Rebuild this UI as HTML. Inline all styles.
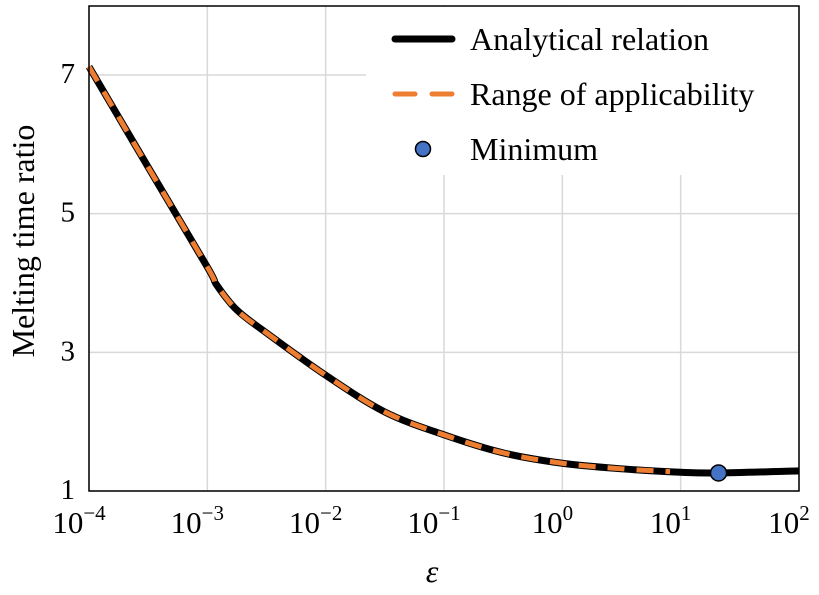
<!DOCTYPE html>
<html><head><meta charset="utf-8"><style>
body{margin:0;background:#fff}
svg{font-family:"Liberation Serif",serif}
</style></head><body>
<svg id="c" width="819" height="590" xmlns="http://www.w3.org/2000/svg"></svg>
<script>
const logEps=[-4,-3.5,-3,-2.92,-2.75,-2.5,-2,-1.5,-1,-0.5,0,0.5,1,1.32,2];
const ratio=[7.12,5.67,4.23,3.97,3.61,3.28,2.67,2.14,1.81,1.55,1.40,1.32,1.27,1.26,1.29];
const rangeEnd=0.91;
const minLog=1.32, minVal=1.26;
const xTicks=[-4,-3,-2,-1,0,1,2];
const yTicks=[1,3,5,7];
const L=89,R=799,T=6,B=491;
const x=v=>L+(v+4)/6*(R-L);
const y=v=>B-(v-1)/6*(B-75);
const ns="http://www.w3.org/2000/svg";
const svg=document.getElementById('c');
function mk(tag,a,p){const e=document.createElementNS(ns,tag);for(const k in a)e.setAttribute(k,a[k]);(p||svg).appendChild(e);return e;}
xTicks.forEach(t=>{const g=mk('line',{x1:x(t),x2:x(t),y1:T,y2:B,stroke:'#d9d9d9','stroke-width':1.5});

const tx=mk('text',{x:x(t)-10,y:533,'font-size':31,'text-anchor':'middle'});

tx.innerHTML='10<tspan dy="-13" font-size="21">'+(t<0?'−'+(-t):t)+'</tspan>';});
yTicks.forEach(t=>{const g=mk('line',{x1:L,x2:R,y1:y(t),y2:y(t),stroke:'#d9d9d9','stroke-width':1.5});

const tx=mk('text',{x:75,y:y(t)+8,'font-size':29,'text-anchor':'end'});tx.textContent=t;
});
function smooth(P){let d='M'+P[0][0]+','+P[0][1];for(let i=0;i<P.length-1;i++){const p0=P[Math.max(0,i-1)],p1=P[i],p2=P[i+1],p3=P[Math.min(P.length-1,i+2)];
const c1=[p1[0]+(p2[0]-p0[0])/6,p1[1]+(p2[1]-p0[1])/6],c2=[p2[0]-(p3[0]-p1[0])/6,p2[1]-(p3[1]-p1[1])/6];
d+=' C'+c1[0]+','+c1[1]+' '+c2[0]+','+c2[1]+' '+p2[0]+','+p2[1];}return d;}
function interp(lv){for(let i=0;i<logEps.length-1;i++){if(lv<=logEps[i+1]){const f=(lv-logEps[i])/(logEps[i+1]-logEps[i]);return ratio[i]+f*(ratio[i+1]-ratio[i]);}}return ratio[ratio.length-1];}
const all=logEps.map((l,i)=>[x(l),y(ratio[i])]);
const line=mk('path',{d:smooth(all),fill:'none',stroke:'#000','stroke-width':7,'stroke-linejoin':'round'});

const rp=[];logEps.forEach((l,i)=>{if(l<rangeEnd)rp.push([x(l),y(ratio[i])]);});rp.push([x(rangeEnd),y(interp(rangeEnd))]);
const rl=mk('path',{d:smooth(rp),fill:'none',stroke:'#ed7d31','stroke-width':5,'stroke-dasharray':'17 12','stroke-linejoin':'round'});

const frame=mk('rect',{x:L,y:T,width:R-L,height:B-T,fill:'none',stroke:'#000','stroke-width':1.5});

const lg=mk('g',{});
mk('rect',{x:366,y:7,width:432,height:168,fill:'#fff'},lg);
mk('line',{x1:395,x2:452,y1:39,y2:39,stroke:'#000','stroke-width':7,'stroke-linecap':'round'},lg);
mk('line',{x1:395,x2:452,y1:94,y2:94,stroke:'#ed7d31','stroke-width':5,'stroke-dasharray':'20 17','stroke-linecap':'round'},lg);
mk('circle',{cx:423,cy:149,r:7.5,fill:'#4472c4',stroke:'#000','stroke-width':1.5},lg);
[['Analytical relation',50],['Range of applicability',105],['Minimum',160]].forEach(([s,yy])=>{const t=mk('text',{x:470,y:yy,'font-size':32},lg);t.textContent=s;
});
const m=mk('circle',{cx:x(minLog),cy:y(minVal),r:8,fill:'#4472c4',stroke:'#000','stroke-width':1.5});

const yl=mk('text',{x:0,y:0,'font-size':32,'text-anchor':'middle',transform:'translate(34,241) rotate(-90)'});yl.textContent='Melting time ratio';

const xl=mk('text',{x:432,y:582,'font-size':32,'font-style':'italic','text-anchor':'middle'});xl.textContent='ε';

</script>
</body></html>
